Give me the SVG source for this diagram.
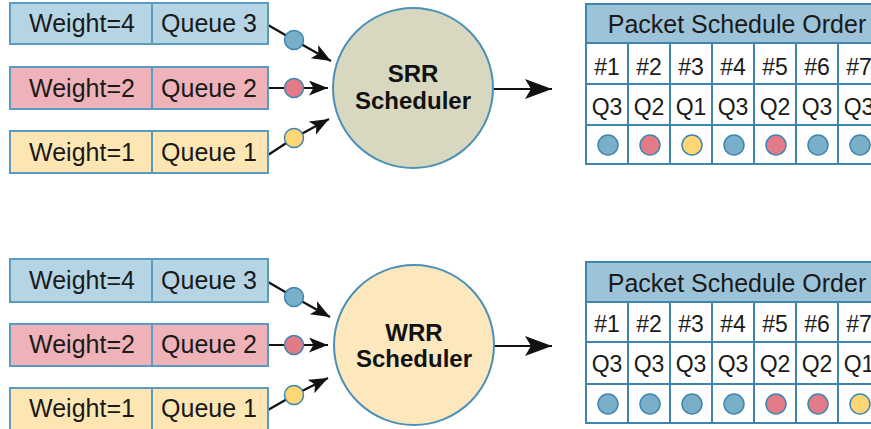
<svg xmlns="http://www.w3.org/2000/svg" width="871" height="429" viewBox="0 0 871 429">
<style>
text{font-family:"Liberation Sans",Arial,sans-serif;fill:#1a1a1a}
.q{font-size:25px;text-anchor:middle}
.s{font-size:24px;font-weight:bold;text-anchor:middle;fill:#111}
.h{font-size:25px;text-anchor:middle}
.c{font-size:23px;text-anchor:middle}
.box{stroke:#5b9bc2;stroke-width:2}
.qb{fill:#b5d4e4}.qp{fill:#efb2b9}.qy{fill:#fde6b4}
.div{stroke:#5b9bc2;stroke-width:2}
.pb{fill:#7aafca;stroke:#3f86ae;stroke-width:1.5}
.pp{fill:#e27b87;stroke:#3f86ae;stroke-width:1.5}
.py{fill:#fed675;stroke:#3f86ae;stroke-width:1.5}
.sched{stroke:#4b90b7;stroke-width:2}
.grid{stroke:#3f86ae;stroke-width:2;fill:none}
.hdr{fill:#9dc3d8}
.cell{fill:#fff}
.ln{stroke:#111;stroke-width:2.2;fill:none}
</style>
<defs>
<marker id="ah" markerUnits="userSpaceOnUse" markerWidth="22" markerHeight="18" refX="19" refY="7.5" orient="auto"><path d="M0,0 L19,7.5 L0,15 L4.5,7.5 z" fill="#111"/></marker>
<marker id="ahl" markerUnits="userSpaceOnUse" markerWidth="30" markerHeight="22" refX="27" refY="10" orient="auto"><path d="M0,0 L27,10 L0,20 L6,10 z" fill="#111"/></marker>
</defs>

<!-- connectors -->
<g id="connectors">
<path class="ln" d="M268,25 L294,40 L331,61" marker-end="url(#ah)"/>
<path class="ln" d="M268,88 L328,88" marker-end="url(#ah)"/>
<path class="ln" d="M268,155 L294,138 L329,119" marker-end="url(#ah)"/>
<path class="ln" d="M493,89 L552,89" marker-end="url(#ahl)"/>
<path class="ln" d="M268,282 L294,297 L330,317" marker-end="url(#ah)"/>
<path class="ln" d="M268,345 L328,345" marker-end="url(#ah)"/>
<path class="ln" d="M268,410 L294,395 L328,378" marker-end="url(#ah)"/>
<path class="ln" d="M494,346 L552,346" marker-end="url(#ahl)"/>
<circle class="pb" cx="294" cy="40" r="9.5"/>
<circle class="pp" cx="294" cy="88" r="9.5"/>
<circle class="py" cx="294" cy="138" r="9.5"/>
<circle class="pb" cx="294" cy="297" r="9.5"/>
<circle class="pp" cx="294" cy="345" r="9.5"/>
<circle class="py" cx="294" cy="395" r="9.5"/>
</g>

<!-- SRR queues -->
<g id="srr-q3">
<rect class="box qb" x="10" y="3" width="258" height="41"/>
<line class="div" x1="152" y1="3" x2="152" y2="44"/>
<text class="q" x="82" y="32">Weight=4</text>
<text class="q" x="209" y="32">Queue 3</text>
</g>
<g id="srr-q2">
<rect class="box qp" x="10" y="67" width="258" height="42"/>
<line class="div" x1="152" y1="67" x2="152" y2="109"/>
<text class="q" x="82" y="97">Weight=2</text>
<text class="q" x="209" y="97">Queue 2</text>
</g>
<g id="srr-q1">
<rect class="box qy" x="10" y="131" width="258" height="42"/>
<line class="div" x1="152" y1="131" x2="152" y2="173"/>
<text class="q" x="82" y="161">Weight=1</text>
<text class="q" x="209" y="161">Queue 1</text>
</g>

<g id="srr-scheduler">
<circle class="sched" cx="413" cy="88" r="80" fill="#d8d8c1"/>
<text class="s" x="413" y="82">SRR</text>
<text class="s" x="413" y="109">Scheduler</text>
</g>

<g id="srr-order">
<rect class="hdr" x="586" y="4" width="294" height="39"/>
<rect class="cell" x="586" y="43" width="294" height="121"/>
<rect class="grid" x="586" y="4" width="294" height="160"/>
<path class="grid" d="M586,43H880M586,84H880M586,125H880M628,43V164M670,43V164M712,43V164M754,43V164M796,43V164M838,43V164"/>
<text class="h" x="737" y="33">Packet Schedule Order</text>
<text class="c" x="607" y="75">#1</text><text class="c" x="649" y="75">#2</text><text class="c" x="691" y="75">#3</text><text class="c" x="733" y="75">#4</text><text class="c" x="775" y="75">#5</text><text class="c" x="817" y="75">#6</text><text class="c" x="859" y="75">#7</text>
<text class="c" x="607" y="115">Q3</text><text class="c" x="649" y="115">Q2</text><text class="c" x="691" y="115">Q1</text><text class="c" x="733" y="115">Q3</text><text class="c" x="775" y="115">Q2</text><text class="c" x="817" y="115">Q3</text><text class="c" x="859" y="115">Q3</text>
<circle class="pb" cx="608" cy="145" r="10"/><circle class="pp" cx="650" cy="145" r="10"/><circle class="py" cx="692" cy="145" r="10"/><circle class="pb" cx="734" cy="145" r="10"/><circle class="pp" cx="776" cy="145" r="10"/><circle class="pb" cx="818" cy="145" r="10"/><circle class="pb" cx="860" cy="145" r="10"/>
</g>

<!-- WRR queues -->
<g id="wrr-q3">
<rect class="box qb" x="10" y="259" width="258" height="43"/>
<line class="div" x1="152" y1="259" x2="152" y2="302"/>
<text class="q" x="82" y="289">Weight=4</text>
<text class="q" x="209" y="289">Queue 3</text>
</g>
<g id="wrr-q2">
<rect class="box qp" x="10" y="324" width="258" height="42"/>
<line class="div" x1="152" y1="324" x2="152" y2="366"/>
<text class="q" x="82" y="353">Weight=2</text>
<text class="q" x="209" y="353">Queue 2</text>
</g>
<g id="wrr-q1">
<rect class="box qy" x="10" y="388" width="258" height="44"/>
<line class="div" x1="152" y1="388" x2="152" y2="432"/>
<text class="q" x="82" y="417">Weight=1</text>
<text class="q" x="209" y="417">Queue 1</text>
</g>

<g id="wrr-scheduler">
<circle class="sched" cx="414" cy="345" r="80" fill="#fde8bd"/>
<text class="s" x="414" y="341">WRR</text>
<text class="s" x="414" y="367">Scheduler</text>
</g>

<g id="wrr-order">
<rect class="hdr" x="586" y="262" width="294" height="40"/>
<rect class="cell" x="586" y="302" width="294" height="121"/>
<rect class="grid" x="586" y="262" width="294" height="161"/>
<path class="grid" d="M586,302H880M586,342H880M586,384H880M628,302V423M670,302V423M712,302V423M754,302V423M796,302V423M838,302V423"/>
<text class="h" x="737" y="292">Packet Schedule Order</text>
<text class="c" x="607" y="332">#1</text><text class="c" x="649" y="332">#2</text><text class="c" x="691" y="332">#3</text><text class="c" x="733" y="332">#4</text><text class="c" x="775" y="332">#5</text><text class="c" x="817" y="332">#6</text><text class="c" x="859" y="332">#7</text>
<text class="c" x="607" y="372">Q3</text><text class="c" x="649" y="372">Q3</text><text class="c" x="691" y="372">Q3</text><text class="c" x="733" y="372">Q3</text><text class="c" x="775" y="372">Q2</text><text class="c" x="817" y="372">Q2</text><text class="c" x="859" y="372">Q1</text>
<circle class="pb" cx="608" cy="404" r="10"/><circle class="pb" cx="650" cy="404" r="10"/><circle class="pb" cx="692" cy="404" r="10"/><circle class="pb" cx="734" cy="404" r="10"/><circle class="pp" cx="776" cy="404" r="10"/><circle class="pp" cx="818" cy="404" r="10"/><circle class="py" cx="860" cy="404" r="10"/>
</g>
</svg>
